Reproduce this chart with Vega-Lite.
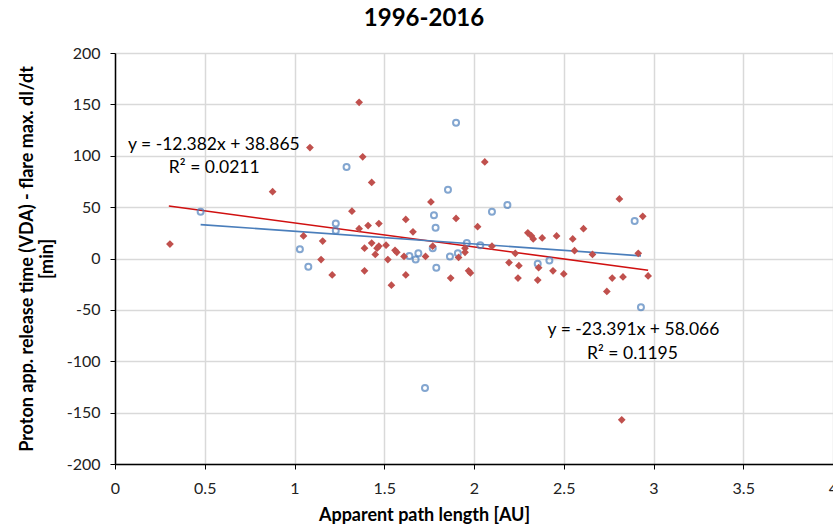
{
  "$schema": "https://vega.github.io/schema/vega-lite/v6.json",
  "autosize": {"type": "none"},
  "width": 718,
  "height": 411,
  "padding": {"left": 115, "top": 53, "right": 0, "bottom": 68},
  "background": "white",
  "title": {"text": "1996-2016", "font": "Lato", "fontSize": 24, "fontWeight": "bold", "color": "#000000", "anchor": "middle", "offset": 14, "dx": -50},
  "config": {
    "view": {"stroke": null},
    "font": "Lato",
    "axis": {
      "gridColor": "#d9d9d9", "gridWidth": 1.5,
      "domainColor": "#000000", "domainWidth": 1.5,
      "tickColor": "#000000", "tickSize": 5, "tickWidth": 1,
      "labelFont": "Lato", "labelFontSize": 16, "labelColor": "#222222",
      "titleFont": "Lato", "titleFontSize": 18, "titleFontWeight": "bold", "titleColor": "#000000"
    }
  },
  "datasets": {
    "pts": [
      {"s": "blue", "x": 0.477, "y": 45.5},
      {"s": "blue", "x": 1.03, "y": 9},
      {"s": "blue", "x": 1.077, "y": -8},
      {"s": "blue", "x": 1.23, "y": 34},
      {"s": "blue", "x": 1.23, "y": 27},
      {"s": "blue", "x": 1.29, "y": 89},
      {"s": "blue", "x": 1.64, "y": 2.4},
      {"s": "blue", "x": 1.69, "y": 5},
      {"s": "blue", "x": 1.675, "y": -1},
      {"s": "blue", "x": 1.727, "y": -126},
      {"s": "blue", "x": 1.77, "y": 10},
      {"s": "blue", "x": 1.777, "y": 42},
      {"s": "blue", "x": 1.786, "y": 30},
      {"s": "blue", "x": 1.79, "y": -9},
      {"s": "blue", "x": 1.855, "y": 67},
      {"s": "blue", "x": 1.866, "y": 2},
      {"s": "blue", "x": 1.91, "y": 5},
      {"s": "blue", "x": 1.9, "y": 132},
      {"s": "blue", "x": 1.96, "y": 15},
      {"s": "blue", "x": 2.035, "y": 13},
      {"s": "blue", "x": 2.1, "y": 45.5},
      {"s": "blue", "x": 2.186, "y": 52},
      {"s": "blue", "x": 2.355, "y": -5},
      {"s": "blue", "x": 2.42, "y": -2},
      {"s": "blue", "x": 2.895, "y": 36.5},
      {"s": "blue", "x": 2.93, "y": -47.5},
      {"s": "red", "x": 0.306, "y": 14},
      {"s": "red", "x": 0.878, "y": 65},
      {"s": "red", "x": 1.05, "y": 22},
      {"s": "red", "x": 1.086, "y": 108},
      {"s": "red", "x": 1.148, "y": -1},
      {"s": "red", "x": 1.157, "y": 17},
      {"s": "red", "x": 1.21, "y": -16},
      {"s": "red", "x": 1.32, "y": 46},
      {"s": "red", "x": 1.36, "y": 152},
      {"s": "red", "x": 1.36, "y": 29},
      {"s": "red", "x": 1.38, "y": 99},
      {"s": "red", "x": 1.39, "y": 10},
      {"s": "red", "x": 1.39, "y": -12},
      {"s": "red", "x": 1.41, "y": 32},
      {"s": "red", "x": 1.43, "y": 74},
      {"s": "red", "x": 1.43, "y": 15},
      {"s": "red", "x": 1.45, "y": 4},
      {"s": "red", "x": 1.46, "y": 10},
      {"s": "red", "x": 1.47, "y": 34},
      {"s": "red", "x": 1.47, "y": 12},
      {"s": "red", "x": 1.51, "y": 13},
      {"s": "red", "x": 1.52, "y": -1},
      {"s": "red", "x": 1.54, "y": -26},
      {"s": "red", "x": 1.56, "y": 8},
      {"s": "red", "x": 1.57, "y": 6},
      {"s": "red", "x": 1.61, "y": 2},
      {"s": "red", "x": 1.62, "y": 38},
      {"s": "red", "x": 1.62, "y": -16},
      {"s": "red", "x": 1.66, "y": 26},
      {"s": "red", "x": 1.73, "y": 2},
      {"s": "red", "x": 1.76, "y": 55},
      {"s": "red", "x": 1.77, "y": 12},
      {"s": "red", "x": 1.87, "y": -19},
      {"s": "red", "x": 1.9, "y": 39},
      {"s": "red", "x": 1.914, "y": 1},
      {"s": "red", "x": 1.95, "y": 10},
      {"s": "red", "x": 1.95, "y": 6},
      {"s": "red", "x": 1.97, "y": -12},
      {"s": "red", "x": 1.98, "y": -14},
      {"s": "red", "x": 2.02, "y": 31},
      {"s": "red", "x": 2.06, "y": 94},
      {"s": "red", "x": 2.1, "y": 12},
      {"s": "red", "x": 2.195, "y": -4},
      {"s": "red", "x": 2.23, "y": 5},
      {"s": "red", "x": 2.245, "y": -19},
      {"s": "red", "x": 2.25, "y": -7},
      {"s": "red", "x": 2.3, "y": 25},
      {"s": "red", "x": 2.32, "y": 22},
      {"s": "red", "x": 2.33, "y": 19},
      {"s": "red", "x": 2.36, "y": -9},
      {"s": "red", "x": 2.355, "y": -21},
      {"s": "red", "x": 2.38, "y": 20},
      {"s": "red", "x": 2.44, "y": -12},
      {"s": "red", "x": 2.46, "y": 22},
      {"s": "red", "x": 2.5, "y": -15},
      {"s": "red", "x": 2.55, "y": 19},
      {"s": "red", "x": 2.56, "y": 7.6},
      {"s": "red", "x": 2.61, "y": 29},
      {"s": "red", "x": 2.66, "y": 4},
      {"s": "red", "x": 2.74, "y": -32},
      {"s": "red", "x": 2.77, "y": -19},
      {"s": "red", "x": 2.81, "y": 58},
      {"s": "red", "x": 2.823, "y": -157},
      {"s": "red", "x": 2.83, "y": -18},
      {"s": "red", "x": 2.915, "y": 5},
      {"s": "red", "x": 2.94, "y": 41},
      {"s": "red", "x": 2.97, "y": -17}
    ],
    "trend": [
      {"s": "red", "x": 0.3, "y": 51.05},
      {"s": "red", "x": 2.97, "y": -11.41},
      {"s": "blue", "x": 0.477, "y": 32.96},
      {"s": "blue", "x": 2.93, "y": 2.59}
    ],
    "labels": [
      {"x": 0.072, "y": 110, "t": "y = -12.382x + 38.865"},
      {"x": 0.3, "y": 88, "t": "R² = 0.0211"},
      {"x": 2.41, "y": -70, "t": "y = -23.391x + 58.066"},
      {"x": 2.63, "y": -93, "t": "R² = 0.1195"}
    ]
  },
  "layer": [
    {
      "data": {"name": "trend"},
      "mark": {"type": "line", "strokeWidth": 1.6},
      "encoding": {
        "x": {"field": "x", "type": "quantitative", "scale": {"domain": [0, 4], "nice": false},
              "axis": {"values": [0, 0.5, 1, 1.5, 2, 2.5, 3, 3.5, 4], "labelExpr": "'' + datum.value", "title": "Apparent path length [AU]", "labelPadding": 11, "titlePadding": 10, "titleX": 309, "titleAlign": "center", "labelFlush": false, "labelOverlap": false}},
        "y": {"field": "y", "type": "quantitative", "scale": {"domain": [-200, 200], "nice": false},
              "axis": {"values": [-200, -150, -100, -50, 0, 50, 100, 150, 200], "labelExpr": "'' + datum.value", "title": ["Proton app. release time (VDA) - flare max. dI/dt", "[min]"], "labelPadding": 10, "titlePadding": 10, "titleLineHeight": 20}},
        "detail": {"field": "s"},
        "color": {"field": "s", "type": "nominal", "scale": {"domain": ["blue", "red"], "range": ["#4a7ebb", "#d01010"]}, "legend": null}
      }
    },
    {
      "data": {"name": "pts"},
      "transform": [{"filter": "datum.s === 'blue'"}],
      "mark": {"type": "point", "shape": "circle", "filled": false, "stroke": "#4f81bd", "strokeWidth": 2, "size": 36},
      "encoding": {
        "x": {"field": "x", "type": "quantitative"},
        "y": {"field": "y", "type": "quantitative"}
      }
    },
    {
      "data": {"name": "pts"},
      "transform": [{"filter": "datum.s === 'red'"}],
      "mark": {"type": "point", "shape": "diamond", "filled": true, "fill": "#c0504d", "opacity": 1, "size": 60},
      "encoding": {
        "x": {"field": "x", "type": "quantitative"},
        "y": {"field": "y", "type": "quantitative"}
      }
    },
    {
      "data": {"name": "labels"},
      "mark": {"type": "text", "align": "left", "baseline": "middle", "font": "Lato", "fontSize": 17.5, "color": "#000000"},
      "encoding": {
        "x": {"field": "x", "type": "quantitative"},
        "y": {"field": "y", "type": "quantitative"},
        "text": {"field": "t"}
      }
    }
  ]
}
